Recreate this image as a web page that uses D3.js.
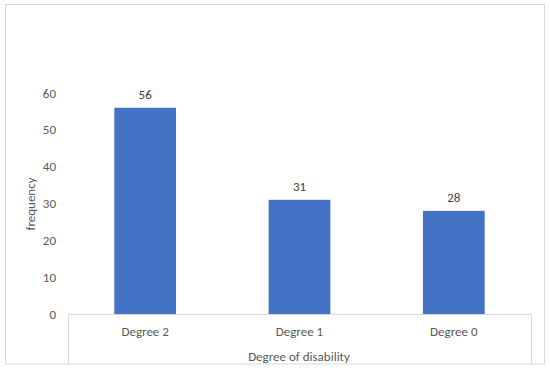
<!DOCTYPE html>
<html>
<head>
<meta charset="utf-8">
<script src="https://cdn.jsdelivr.net/npm/d3@7"></script>
<style>
  body { margin: 0; background: #fff; }
  text { font-family: Calibri, Carlito, "Open Sans", sans-serif; }
</style>
</head>
<body>
<div id="chart"></div>
<script>
const categories = ["Degree 2", "Degree 1", "Degree 0"];
const frequency = [56, 31, 28];
const yTicks = [0, 10, 20, 30, 40, 50, 60];

const W = 550, H = 370;
const svg = d3.select("#chart").append("svg")
    .attr("width", W)
    .attr("height", H);

// outer chart frame
svg.append("rect")
  .attr("x", 5.5).attr("y", 4.5)
  .attr("width", 539).attr("height", 359.5)
  .attr("fill", "none")
  .attr("stroke", "#d9d9d9");

const x = d3.scaleBand()
  .domain(categories)
  .range([68, 531])
  .paddingInner(0.6)
  .paddingOuter(0.3);

const y = d3.scaleLinear()
  .domain([0, 60])
  .range([314, 93]);

// category axis box (Excel style table under the bars)
svg.append("path")
  .attr("d", `M68.5,364 V314.5 H531.5 V364`)
  .attr("fill", "none")
  .attr("stroke", "#d9d9d9");

// y tick labels
svg.selectAll(".ytick")
  .data(yTicks)
  .join("text")
  .attr("class", "ytick")
  .attr("x", 56)
  .attr("y", d => y(d))
  .attr("dy", "0.35em")
  .attr("text-anchor", "end")
  .attr("font-size", 13)
  .attr("fill", "#595959")
  .text(d => d);

// bars
svg.selectAll(".bar")
  .data(frequency)
  .join("rect")
  .attr("class", "bar")
  .attr("x", (d, i) => x(categories[i]))
  .attr("width", x.bandwidth())
  .attr("y", d => y(d))
  .attr("height", d => y(0) - y(d))
  .attr("fill", "#4472c4");

// value labels
svg.selectAll(".val")
  .data(frequency)
  .join("text")
  .attr("class", "val")
  .attr("x", (d, i) => x(categories[i]) + x.bandwidth() / 2)
  .attr("y", d => y(d) - 13)
  .attr("dy", "0.35em")
  .attr("text-anchor", "middle")
  .attr("font-size", 13)
  .attr("fill", "#404040")
  .text(d => d);

// category labels
svg.selectAll(".cat")
  .data(categories)
  .join("text")
  .attr("class", "cat")
  .attr("x", d => x(d) + x.bandwidth() / 2)
  .attr("y", 331)
  .attr("dy", "0.35em")
  .attr("text-anchor", "middle")
  .attr("font-size", 13)
  .attr("fill", "#595959")
  .text(d => d);

// axis titles
svg.append("text")
  .attr("x", 299)
  .attr("y", 356)
  .attr("dy", "0.35em")
  .attr("text-anchor", "middle")
  .attr("font-size", 13)
  .attr("fill", "#595959")
  .text("Degree of disability");

svg.append("text")
  .attr("transform", "translate(30,204) rotate(-90)")
  .attr("dy", "0.35em")
  .attr("text-anchor", "middle")
  .attr("font-size", 13)
  .attr("fill", "#595959")
  .text("frequency");
</script>
</body>
</html>
